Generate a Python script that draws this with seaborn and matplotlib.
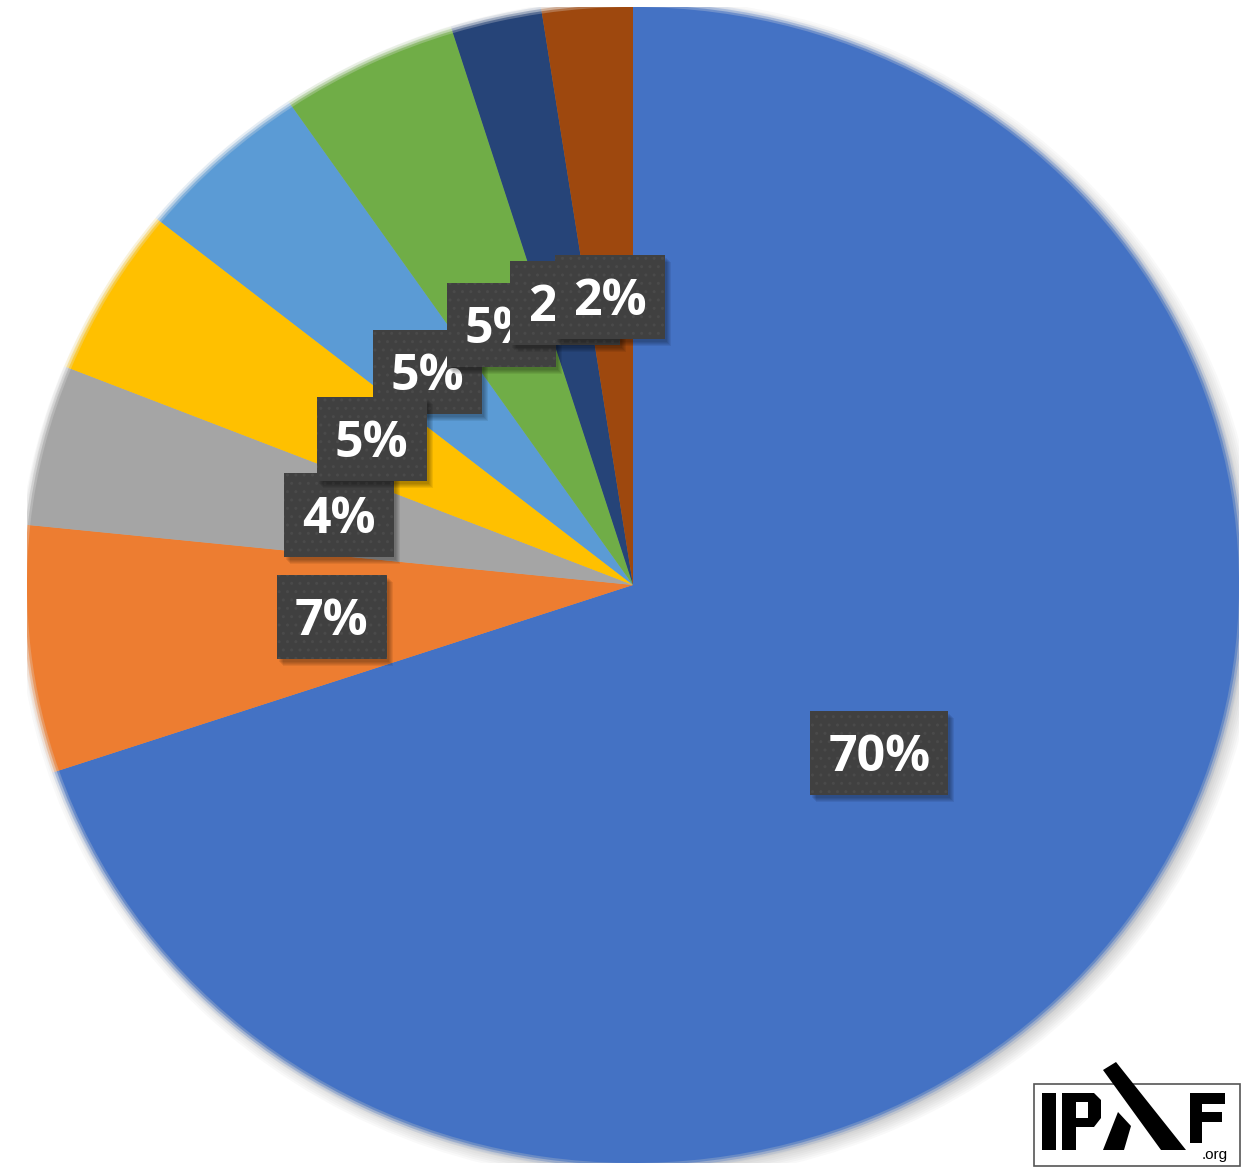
import matplotlib
matplotlib.use("Agg")
import matplotlib.pyplot as plt
import matplotlib.patches as mpatches
import matplotlib.transforms as mtransforms
import seaborn as sns

# ---- data ----
categories = ["A", "B", "C", "D", "E", "F", "G", "H"]
values = [69.8, 6.85, 4.45, 4.7, 4.7, 4.7, 2.4, 2.4]
colors = ["#4472C4", "#ED7D31", "#A5A5A5", "#FFC000",
          "#5B9BD5", "#70AD47", "#264478", "#9E480E"]
# stacking order of the label boxes (bottom -> top)
label_stack = [0, 1, 4, 2, 3, 5, 6, 7]

sns.set_theme(style="white")
plt.rcParams["font.family"] = ["Open Sans", "DejaVu Sans"]

W, H = 1242, 1167
fig = plt.figure(figsize=(W / 100, H / 100), dpi=100)
fig.patch.set_facecolor("white")
ax = fig.add_axes([27 / W, 4 / H, 1212 / W, 1156 / H])

palette = sns.color_palette(colors)

# soft shadow behind the pie
for k in range(8):
    e = mpatches.Ellipse((0.009, -0.009), 2 + 0.007 * k, 2 + 0.007 * k,
                         facecolor="black", alpha=0.025, edgecolor="none",
                         zorder=0)
    ax.add_patch(e)

wedges, texts, autotexts = ax.pie(
    values, colors=palette, startangle=90, counterclock=False,
    autopct=lambda p: f"{p:.0f}%", pctdistance=0.5,
    wedgeprops=dict(linewidth=0),
    textprops=dict(color="white", fontsize=36, fontweight="bold"),
)
for w, c in zip(wedges, palette):
    w.set_zorder(3)
    # soft (blurred) outer rim
    for r, a in [(1.004, 0.55), (1.008, 0.3), (1.012, 0.12)]:
        ax.add_patch(mpatches.Wedge(w.center, r, w.theta1, w.theta2,
                                    facecolor=c, edgecolor="none", alpha=a,
                                    zorder=1))
ax.set_aspect("auto")
ax.set_xlim(-1, 1)
ax.set_ylim(-1, 1)
ax.axis("off")

fontsize_px = 36 * 100 / 72
cap_px = 0.714 * fontsize_px
for t in autotexts:
    t.set_va("baseline")
    t.set_ha("center")
    t.set_transform(mtransforms.offset_copy(ax.transData, fig=fig,
                                            y=-cap_px / 2, units="dots"))

fig.canvas.draw()
renderer = fig.canvas.get_renderer()
inv = ax.transData.inverted()
for rank, i in enumerate(label_stack):
    t = autotexts[i]
    bb = t.get_window_extent(renderer)
    cx_data, cy_data = t.get_position()
    cx, cy = ax.transData.transform((cx_data, cy_data))
    bw = bb.width + 36
    bh = 84
    x0, y0 = inv.transform((cx - bw / 2, cy - bh / 2))
    x1, y1 = inv.transform((cx + bw / 2, cy + bh / 2))
    z = 10 + 3 * rank
    # shadow
    for k in range(5):
        sx0, sy0 = inv.transform((cx - bw / 2 + 2 + k, cy - bh / 2 - 3 - k))
        sx1, sy1 = inv.transform((cx + bw / 2 + 2 + k, cy + bh / 2 - 3 - k))
        ax.add_patch(mpatches.Rectangle((sx0, sy0), sx1 - sx0, sy1 - sy0,
                                        facecolor="black", alpha=0.07,
                                        edgecolor="none", zorder=z))
    ax.add_patch(mpatches.Rectangle((x0, y0), x1 - x0, y1 - y0,
                                    facecolor="#404040", edgecolor="#4a4a4a",
                                    linewidth=0, hatch="..", zorder=z + 1))
    t.set_zorder(z + 2)

# ---- IPAF logo (pixel coordinates) ----
lx0, lx1, ly0, ly1 = 1020, 1242, 1050, 1167
lax = fig.add_axes([lx0 / W, (H - ly1) / H, (lx1 - lx0) / W, (ly1 - ly0) / H])
lax.set_xlim(lx0, lx1)
lax.set_ylim(ly1, ly0)
lax.axis("off")
lax.add_patch(mpatches.Rectangle((1034, 1084), 206, 82, facecolor="white",
                                 edgecolor="#555555", linewidth=1.2))
blk = dict(facecolor="black", edgecolor="none")
# I
lax.add_patch(mpatches.Rectangle((1042, 1093), 14, 57, **blk))
# P
lax.add_patch(mpatches.Rectangle((1062, 1093), 14, 57, **blk))
lax.add_patch(mpatches.Polygon([(1076, 1093), (1094, 1093), (1101, 1100),
                                (1101, 1118), (1094, 1127), (1076, 1127),
                                (1076, 1118), (1088, 1118), (1088, 1102),
                                (1076, 1102)], closed=True, **blk))
# A
lax.add_patch(mpatches.Polygon([(1103, 1070), (1116, 1062), (1186, 1150),
                                (1161, 1150)], closed=True, **blk))
lax.add_patch(mpatches.Polygon([(1118, 1112), (1131, 1126), (1124, 1150),
                                (1103, 1150)], closed=True, **blk))
# F
lax.add_patch(mpatches.Rectangle((1190, 1093), 12, 50, **blk))
lax.add_patch(mpatches.Rectangle((1202, 1093), 23, 11, **blk))
lax.add_patch(mpatches.Rectangle((1202, 1112), 20, 10, **blk))
lax.text(1215, 1155, ".org", ha="center", va="center", fontsize=11,
         color="black", family=["Liberation Sans", "DejaVu Sans"])

fig.savefig("out.png", dpi=100, facecolor="white")
